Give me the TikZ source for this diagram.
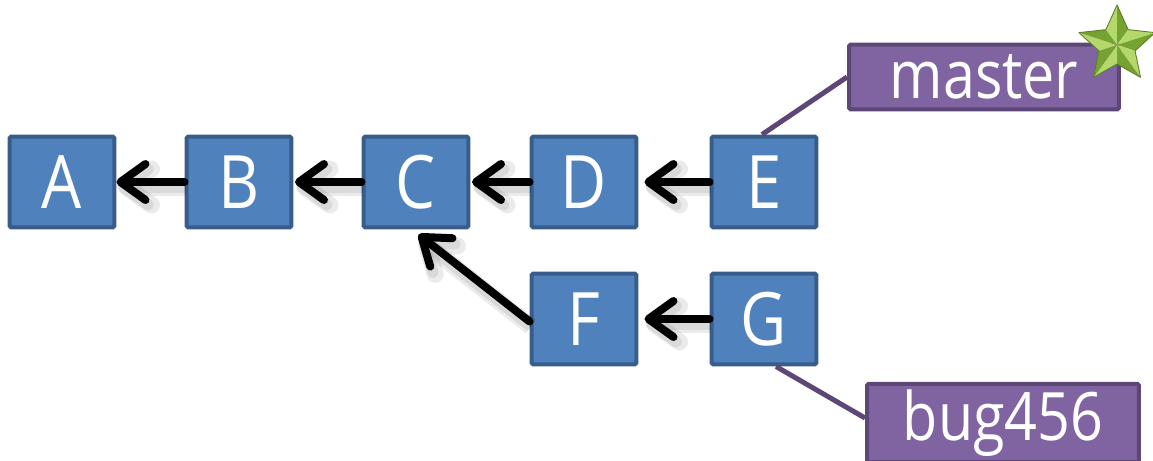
\documentclass[tikz,border=0pt]{standalone}
\usepackage{fontspec}
\setmainfont{Open Sans}[FakeStretch=0.86]
\usepackage{tikz}
\usetikzlibrary{arrows.meta}

\definecolor{commitfill}{HTML}{4F81BD}
\definecolor{commitline}{HTML}{385D8A}
\definecolor{reffill}{HTML}{8064A2}
\definecolor{refline}{HTML}{5C4776}
\definecolor{starlight}{HTML}{B4D86C}
\definecolor{stardark}{HTML}{76A232}
\definecolor{starline}{HTML}{5B7F22}

\tikzset{
  commit/.style={draw=commitline, fill=commitfill, line width=0.08cm, rounded corners=1pt,
    minimum width=2.1cm, minimum height=1.82cm, text=white, font=\fontsize{42}{42}\selectfont},
  branch/.style={draw=refline, fill=reffill, line width=0.08cm, rounded corners=1pt,
    minimum width=5.4cm, minimum height=1.3cm, text=white, font=\fontsize{38}{38}\selectfont},
  parent/.style={line width=0.16cm, line cap=round,
    -{Straight Barb[length=0.5cm, width=0.72cm, line cap=round, line join=round]},
    preaction={draw=black, opacity=0.08, line width=0.34cm, transform canvas={shift={(0.03cm,-0.1cm)}}},
    preaction={draw=black, opacity=0.08, line width=0.22cm, transform canvas={shift={(0.03cm,-0.1cm)}}}},
  pointer/.style={draw=refline, line width=0.1cm}
}

\begin{document}
\begin{tikzpicture}[x=0.02cm, y=-0.02cm]
\useasboundingbox (0,0) rectangle (1153,460);

% commits on master
\node (A) at (62,182) [commit] {A};
\node (B) at (239,182) [commit] {B};
\node (C) at (416,182) [commit] {C};
\node (D) at (584,182) [commit] {D};
\node (E) at (764,182) [commit] {E};

% commits on the bug branch
\node (F) at (584,319) [commit] {F};
\node (G) at (764,319) [commit] {G};

% branch pointers
\node (master) at (984,77) [branch, minimum width=5.4cm] {master};
\node (bug) at (1003,423) [branch, minimum width=5.44cm] {bug456};
\draw[pointer] ([xshift=-0.04cm]E.north) -- (master.west);
\draw[pointer] ([xshift=0.24cm]G.south) -- ([yshift=0.1cm]bug.west);

% parent links
\draw[parent] (B.west) -- (A.east);
\draw[parent] (C.west) -- ([xshift=0.03cm]B.east);
\draw[parent] (D.west) -- ([xshift=0.03cm]C.east);
\draw[parent] (E.west) -- ([xshift=0.12cm]D.east);
\draw[parent] (G.west) -- ([xshift=0.12cm]F.east);
\draw[parent] ([yshift=-0.05cm]F.west) -- ([xshift=0.05cm,yshift=-0.1cm]C.south);

% star on the current branch
\begin{scope}[shift={(1117,45)}]
\foreach \i in {0,...,4} {
  \fill[starlight] (0,0) -- (-90+72*\i:40) -- (-126+72*\i:19) -- cycle;
  \fill[stardark] (0,0) -- (-90+72*\i:40) -- (-54+72*\i:19) -- cycle;
}
\draw[starline, line width=0.5pt, line join=round]
  (-90:40) -- (-54:19) -- (-18:40) -- (18:19) -- (54:40) -- (90:19)
  -- (126:40) -- (162:19) -- (198:40) -- (234:19) -- cycle;
\end{scope}
\end{tikzpicture}
\end{document}
